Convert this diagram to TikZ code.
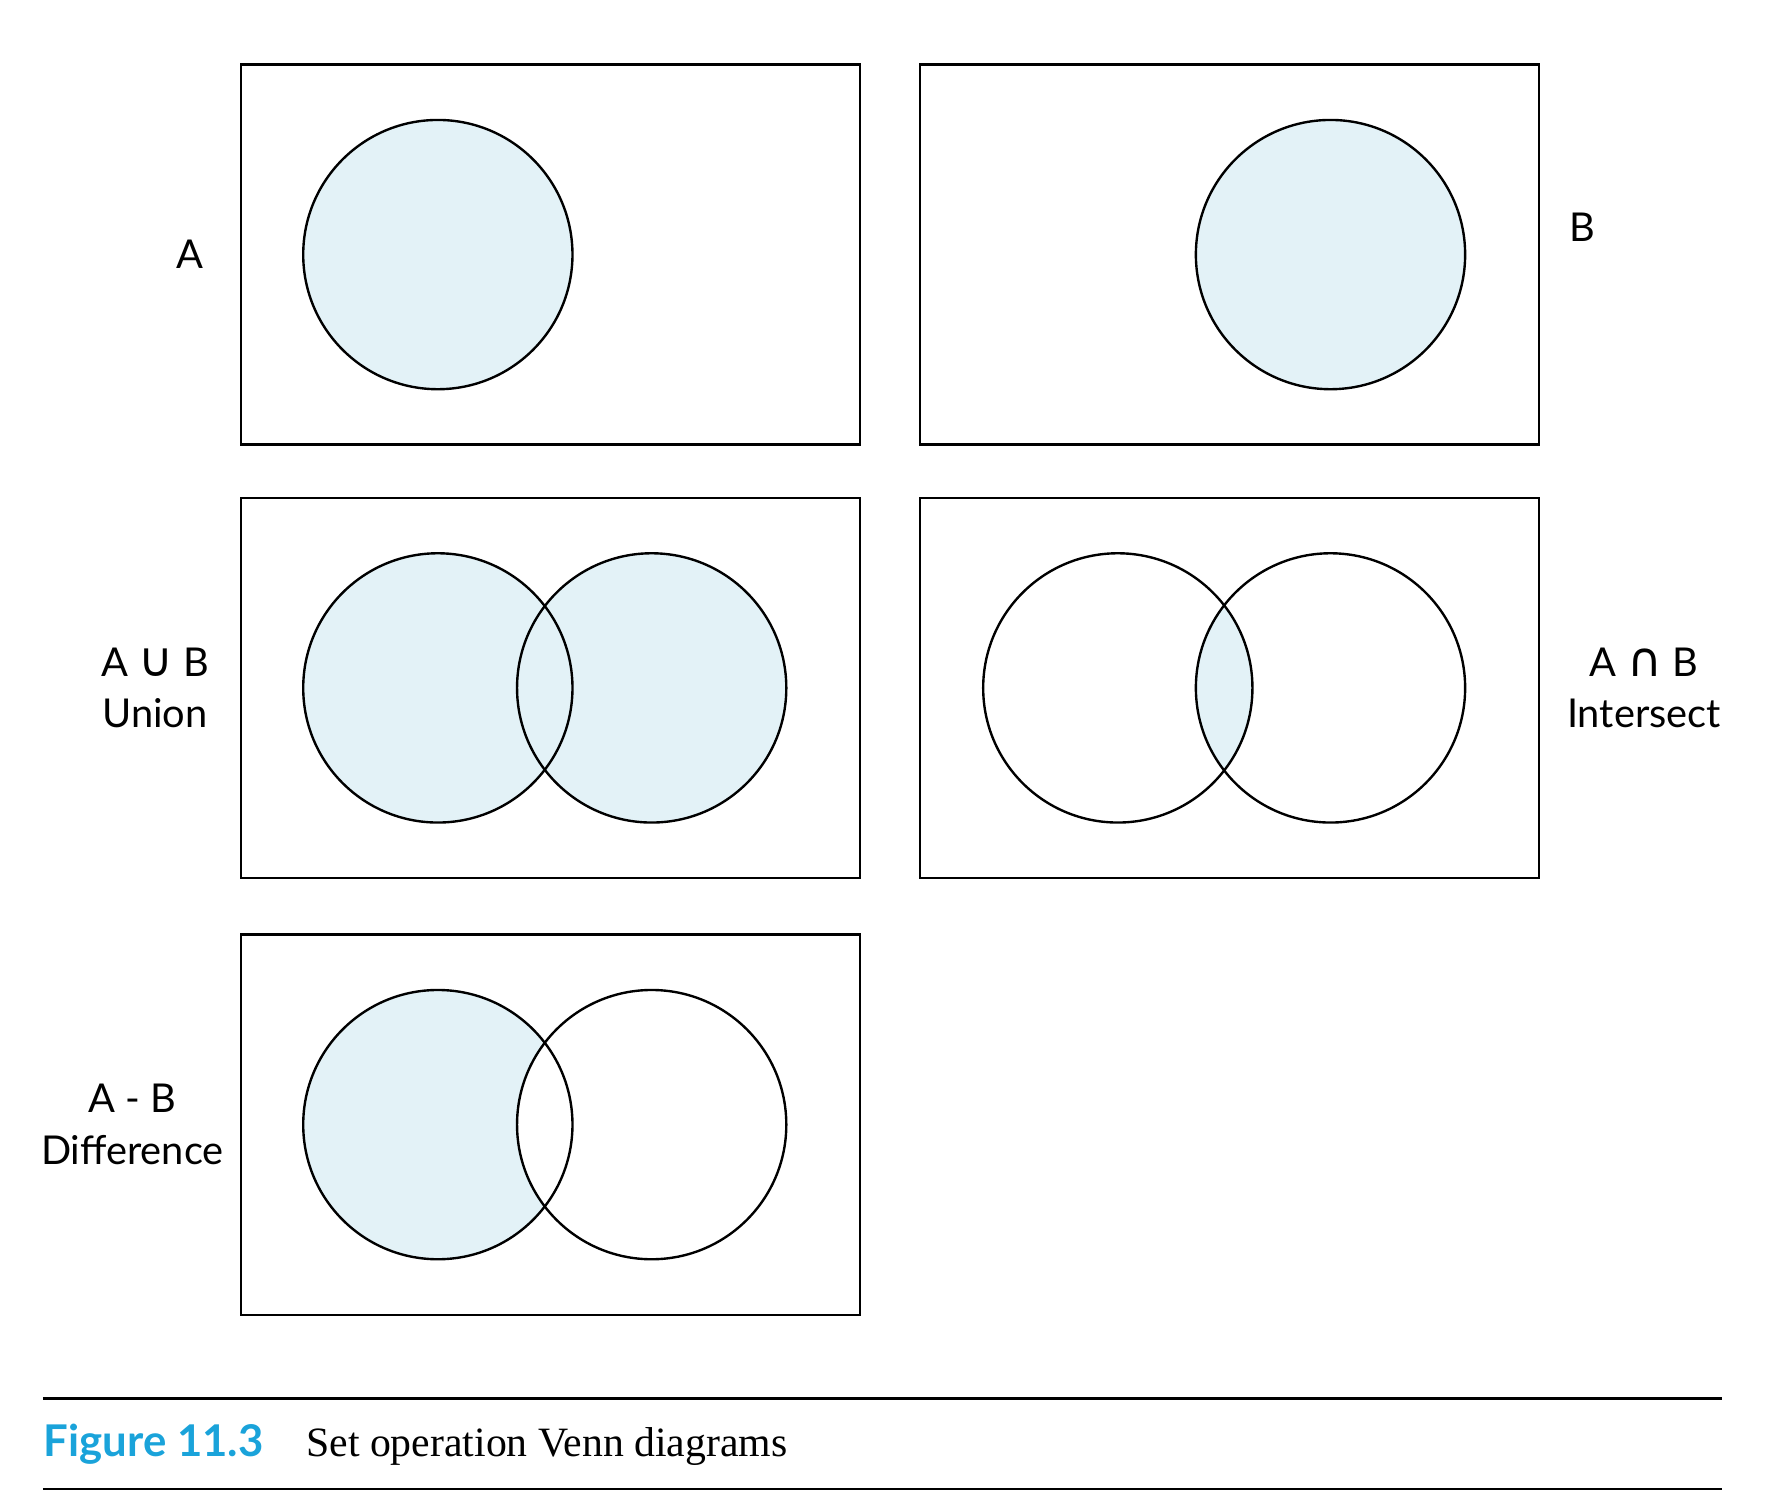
\documentclass[tikz,border=0pt]{standalone}
\usepackage{fontspec}
\setmainfont{Liberation Serif}
\newfontfamily\labelfont{Lato}
\newfontfamily\symfont{DejaVu Sans}
\usetikzlibrary{positioning}
\definecolor{setfill}{HTML}{E3F2F7}
\definecolor{figblue}{HTML}{1AA3DA}
\newcommand{\opsym}[1]{{\symfont\fontsize{12}{13}\selectfont #1}}
\tikzset{
    universe/.style={draw, line width=0.6pt, minimum width=5.47cm, minimum height=3.36cm, inner sep=0pt}, % Box round each diagram
    set/.style={circle, draw, line width=0.6pt, minimum size=2.38cm, inner sep=0pt}, % Outline of a set
    setname/.style={font=\labelfont\fontsize{10}{13}\selectfont, align=center}, % Names beside the boxes
    rule/.style={line width=0.6pt}, % Lines round the caption
}

\begin{document}
\begin{tikzpicture}
    \useasboundingbox (0,0) rectangle (15.68,-13.35);

    % shaded parts first
    \fill[setfill] (3.87,-2.25) circle (1.19);
    \fill[setfill] (11.76,-2.25) circle (1.19);
    \fill[setfill] (3.87,-6.08) circle (1.19) (5.76,-6.08) circle (1.19);
    \begin{scope}
        \clip (9.88,-6.08) circle (1.19);
        \fill[setfill] (11.76,-6.08) circle (1.19);
    \end{scope}
    \fill[setfill] (3.87,-9.94) circle (1.19);
    \begin{scope}
        \clip (3.87,-9.94) circle (1.19);
        \fill[white] (5.76,-9.94) circle (1.19);
    \end{scope}

    \node[universe] (boxA) at (4.865,-2.25) {};
    \node[universe] (boxB) at (10.865,-2.25) {};
    \node[universe] (boxU) at (4.865,-6.08) {};
    \node[universe] (boxI) at (10.865,-6.08) {};
    \node[universe] (boxD) at (4.865,-9.94) {};

    \node[set] (aA) at (3.87,-2.25) {};
    \node[set] (bB) at (11.76,-2.25) {};
    \node[set] (aU) at (3.87,-6.08) {};
    \node[set] (bU) at (5.76,-6.08) {};
    \node[set] (aI) at (9.88,-6.08) {};
    \node[set] (bI) at (11.76,-6.08) {};
    \node[set] (aD) at (3.87,-9.94) {};
    \node[set] (bD) at (5.76,-9.94) {};

    \node[setname] (nameA) at (1.68,-2.25) {A};
    \node[setname] (nameB) at (13.99,-2.01) {B};
    \node[setname] (nameU) at (1.37,-6.08) {A \opsym{∪} B\\Union};
    \node[setname] (nameI) at (14.53,-6.08) {A \opsym{∩} B\\Intersect};
    \node[setname] (nameD) at (1.17,-9.94) {A - B\\Difference};

    % caption
    \coordinate (topleft) at (0.38,-12.36);
    \coordinate (topright) at (15.22,-12.36);
    \coordinate (botleft) at (0.38,-13.16);
    \coordinate (botright) at (15.22,-13.16);
    \draw[rule] (topleft) -- (topright);
    \draw[rule] (botleft) -- (botright);
    \node[anchor=base west, inner sep=0pt, text=figblue, font=\labelfont\bfseries\fontsize{11}{13}\selectfont] (fignum) at (0.38,-12.87) {Figure 11.3};
    \node[anchor=base west, inner sep=0pt, font=\fontsize{10.5}{13}\selectfont] (figtitle) at (2.70,-12.87) {Set operation Venn diagrams};
\end{tikzpicture}
\end{document}
